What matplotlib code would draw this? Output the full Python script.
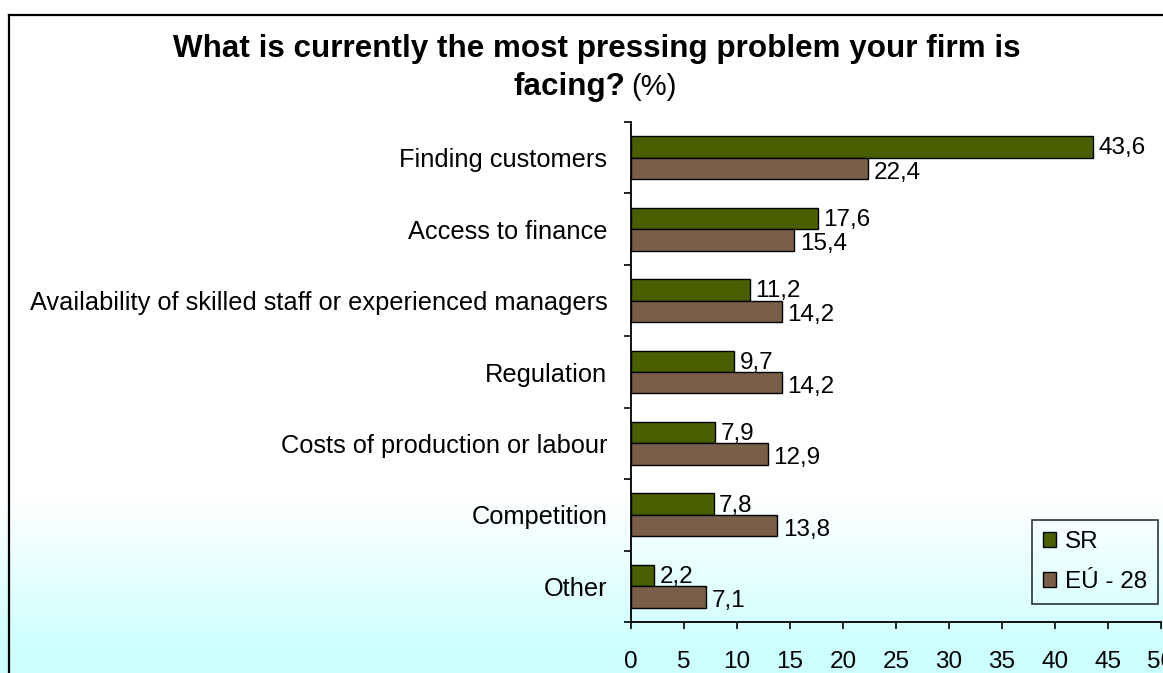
import numpy as np
import matplotlib
matplotlib.use("Agg")
import matplotlib.pyplot as plt
from matplotlib.patches import Patch
from matplotlib.lines import Line2D

plt.rcParams['font.family'] = ['Liberation Sans', 'DejaVu Sans']

# datos
categorias = ["Finding customers", "Access to finance",
              "Availability of skilled staff or experienced managers",
              "Regulation", "Costs of production or labour", "Competition", "Other"]
sr = [43.6, 17.6, 11.2, 9.7, 7.9, 7.8, 2.2]
eu = [22.4, 15.4, 14.2, 14.2, 12.9, 13.8, 7.1]
series = ["SR", "EÚ - 28"]
xticks = [0, 5, 10, 15, 20, 25, 30, 35, 40, 45, 50]

verde = "#4a6000"
cafe = "#7a5f48"

W, H = 1163, 673
fig = plt.figure(figsize=(W / 100, H / 100), dpi=100)

# fondo con degradado blanco -> cian
fondo = fig.add_axes([0, 0, 1, 1], zorder=-10)
fondo.axis("off")
filas = np.arange(H)
t = np.clip((filas - 495) / (655 - 495), 0, 1)
blanco = np.array([1.0, 1.0, 1.0])
cian = np.array([0.80, 1.0, 1.0])
grad = blanco[None, :] * (1 - t[:, None]) + cian[None, :] * t[:, None]
img = np.repeat(grad[:, None, :], 2, axis=1)
fondo.imshow(img, aspect="auto", extent=[0, 1, 0, 1], origin="upper")
fondo.set_xlim(0, 1)
fondo.set_ylim(0, 1)

# marco del grafico (solo se ve izquierda y arriba)
xb = 8.5 / W
yb = 1 - 14.5 / H
fig.add_artist(Line2D([xb, xb], [0, yb], color="black", lw=1.6, transform=fig.transFigure))
fig.add_artist(Line2D([xb, 1], [yb, yb], color="black", lw=1.6, transform=fig.transFigure))

ax = fig.add_axes([631 / W, (H - 622) / H, (1161 - 631) / W, 500 / H])
ax.patch.set_alpha(0)

y = np.arange(len(categorias))
h = 0.3
ax.barh(y - h / 2, sr, height=h, color=verde, edgecolor="black", linewidth=1)
ax.barh(y + h / 2, eu, height=h, color=cafe, edgecolor="black", linewidth=1)

for i in range(len(categorias)):
    ax.annotate(f"{sr[i]:.1f}".replace(".", ","), (sr[i], y[i] - h / 2),
                xytext=(4, -1), textcoords="offset points", va="center", ha="left", fontsize=17.5)
    ax.annotate(f"{eu[i]:.1f}".replace(".", ","), (eu[i], y[i] + h / 2),
                xytext=(4, -3), textcoords="offset points", va="center", ha="left", fontsize=17.5)

ax.set_xlim(0, 50)
ax.set_ylim(len(categorias) - 0.5, -0.5)
ax.set_xticks(xticks)
ax.set_xticklabels([str(v) for v in xticks])
ax.tick_params(axis="x", length=5, width=1.2, labelsize=17.5, pad=16)

ax.set_yticks(np.arange(-0.5, len(categorias), 1.0))
ax.set_yticklabels([])
ax.set_yticks(y, minor=True)
ax.set_yticklabels(categorias, minor=True)
ax.tick_params(axis="y", which="major", length=5, width=1.2)
ax.tick_params(axis="y", which="minor", length=0, labelsize=18.3, pad=17)

for lado in ["top", "right"]:
    ax.spines[lado].set_visible(False)
for lado in ["left", "bottom"]:
    ax.spines[lado].set_linewidth(1.3)
ax.xaxis.get_ticklabels()[-1].set_clip_on(False)

# titulo
fig.text(597 / W, 1 - 57 / H, "What is currently the most pressing problem your firm is",
         ha="center", va="baseline", fontsize=22.6, fontweight="bold")
fig.text(625 / W, 1 - 95 / H, "facing?", ha="right", va="baseline", fontsize=22.6, fontweight="bold")
fig.text(631 / W, 1 - 95 / H, "(%)", ha="left", va="baseline", fontsize=21)

manejadores = [Patch(facecolor=verde, edgecolor="black", linewidth=1),
               Patch(facecolor=cafe, edgecolor="black", linewidth=1)]
leg = fig.legend(manejadores, series, loc="upper right",
                 bbox_to_anchor=(1158 / W, 1 - 520 / H), bbox_transform=fig.transFigure,
                 fontsize=17.5, frameon=True, fancybox=False, borderaxespad=0,
                 handlelength=0.55, handleheight=0.55, handletextpad=0.35,
                 labelspacing=0.75, borderpad=0.45)
leg.get_frame().set_edgecolor("black")
leg.get_frame().set_facecolor("none")
leg.get_frame().set_linewidth(1.2)

fig.savefig("out.png", dpi=100)
